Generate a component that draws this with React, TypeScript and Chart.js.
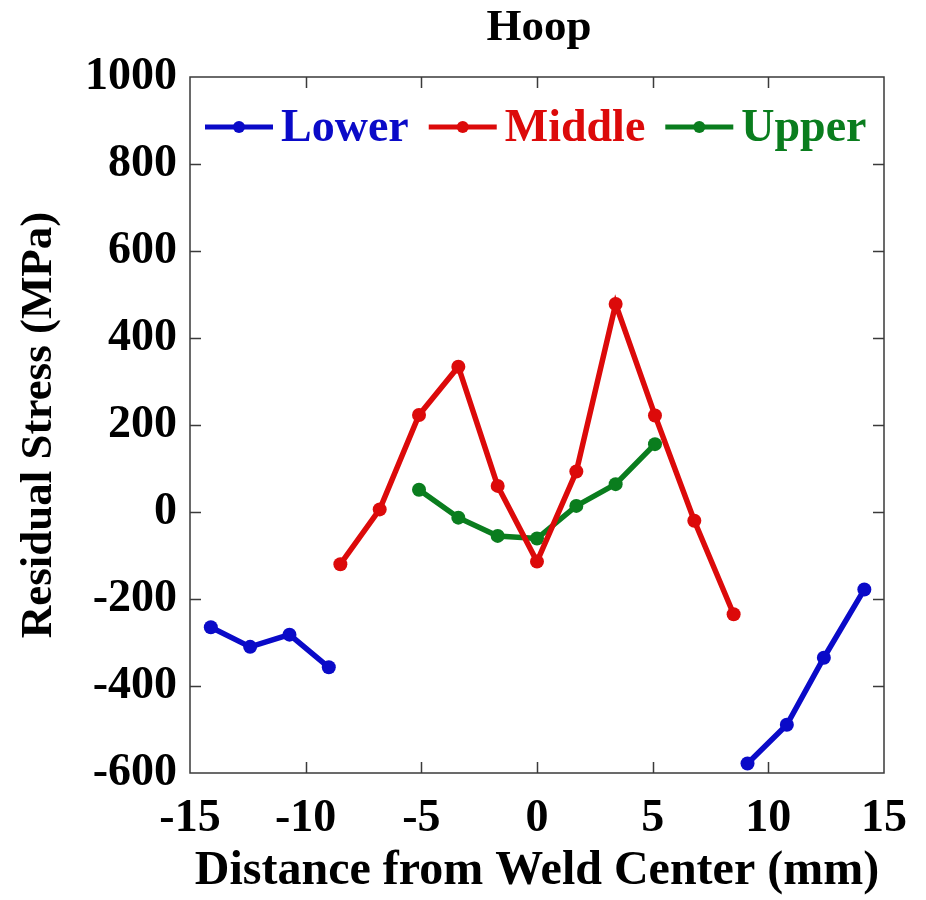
import React, { useEffect, useRef } from "react";
import { Chart, registerables } from "chart.js";

Chart.register(...registerables);

const chartTitle = "Hoop";
const xTitle = "Distance from Weld Center (mm)";
const yTitle = "Residual Stress (MPa)";

const xMin = -15;
const xMax = 15;
const xStep = 5;
const yMin = -600;
const yMax = 1000;
const yStep = 200;

// Lower (two separate segments)
const lowerLeftX = [-14.1, -12.4, -10.7, -9.0];
const lowerLeftY = [-265, -310, -282, -357];
const lowerRightX = [9.1, 10.8, 12.4, 14.15];
const lowerRightY = [-578, -489, -335, -178];

// Middle
const middleX = [-8.5, -6.8, -5.1, -3.4, -1.7, 0, 1.7, 3.4, 5.1, 6.8, 8.5];
const middleY = [-120, 6, 223, 334, 60, -114, 93, 478, 222, -20, -235];

// Upper
const upperX = [-5.1, -3.4, -1.7, 0, 1.7, 3.4, 5.1];
const upperY = [51, -13, -55, -61, 14, 64, 156];

const seriesNames = ["Lower", "Middle", "Upper"];
const seriesColors = ["#0a0ac8", "#dc0a0a", "#0a7d1e"];

const FONT = "'Liberation Serif', 'Times New Roman', serif";

function pts(xs: number[], ys: (number | null)[]) {
  return xs.map((x, i) => ({ x, y: ys[i] }));
}

const decorPlugin = {
  id: "decor",
  beforeDatasetsDraw(chart: any) {
    const { ctx, chartArea: a, scales } = chart;
    ctx.save();
    ctx.strokeStyle = "#3a3a3a";
    ctx.lineWidth = 1.5;
    ctx.strokeRect(a.left, a.top, a.right - a.left, a.bottom - a.top);
    const tl = 11;
    ctx.beginPath();
    for (let v = xMin + xStep; v < xMax; v += xStep) {
      const px = Math.round(scales.x.getPixelForValue(v)) + 0.5;
      ctx.moveTo(px, a.bottom);
      ctx.lineTo(px, a.bottom - tl);
      ctx.moveTo(px, a.top);
      ctx.lineTo(px, a.top + tl);
    }
    for (let v = yMin + yStep; v < yMax; v += yStep) {
      const py = Math.round(scales.y.getPixelForValue(v)) + 0.5;
      ctx.moveTo(a.left, py);
      ctx.lineTo(a.left + tl, py);
      ctx.moveTo(a.right, py);
      ctx.lineTo(a.right - tl, py);
    }
    ctx.stroke();
    ctx.restore();
  },
  afterDraw(chart: any) {
    const { ctx, chartArea: a } = chart;
    ctx.save();
    // title
    ctx.fillStyle = "#000";
    ctx.font = `bold 45px ${FONT}`;
    ctx.textAlign = "center";
    ctx.textBaseline = "alphabetic";
    ctx.fillText(chartTitle, (a.left + a.right) / 2 + 2, 40);
    // legend
    ctx.font = `bold 46px ${FONT}`;
    ctx.textAlign = "left";
    ctx.textBaseline = "middle";
    let x = a.left + 15;
    const y = a.top + 50;
    chart.data.datasets.forEach((ds: any) => {
      const lineLen = 68;
      ctx.strokeStyle = ds.borderColor;
      ctx.lineWidth = 5;
      ctx.beginPath();
      ctx.moveTo(x, y);
      ctx.lineTo(x + lineLen, y);
      ctx.stroke();
      ctx.fillStyle = ds.borderColor;
      ctx.beginPath();
      ctx.arc(x + lineLen / 2, y, 6, 0, Math.PI * 2);
      ctx.fill();
      x += lineLen + 8;
      ctx.fillStyle = ds.borderColor;
      ctx.fillText(ds.label, x, y + 2);
      x += ctx.measureText(ds.label).width + 20;
    });
    ctx.restore();
  },
};

export default function App() {
  const ref = useRef<HTMLCanvasElement | null>(null);
  useEffect(() => {
    document.body.style.margin = "0";
    const canvas = ref.current;
    if (!canvas) return;
    const lowerData = [
      ...pts(lowerLeftX, lowerLeftY),
      { x: 0, y: null },
      ...pts(lowerRightX, lowerRightY),
    ];
    const datasets = [
      { label: seriesNames[0], data: lowerData },
      { label: seriesNames[1], data: pts(middleX, middleY) },
      { label: seriesNames[2], data: pts(upperX, upperY) },
    ].map((d, i) => ({
      ...d,
      borderColor: seriesColors[i],
      backgroundColor: seriesColors[i],
      pointBackgroundColor: seriesColors[i],
      pointBorderColor: seriesColors[i],
      borderWidth: 5.5,
      pointRadius: 7,
      pointBorderWidth: 0,
      tension: 0,
      spanGaps: false,
      fill: false,
    }));
    const chart = new Chart(canvas, {
      type: "line",
      data: { datasets } as any,
      plugins: [decorPlugin],
      options: {
        animation: false,
        responsive: false,
        devicePixelRatio: 1,
        layout: { padding: { top: 77, right: 41, left: 0, bottom: 0 } },
        plugins: {
          legend: { display: false },
          title: { display: false },
          tooltip: { enabled: false },
        },
        scales: {
          x: {
            type: "linear",
            min: xMin,
            max: xMax,
            ticks: {
              stepSize: xStep,
              color: "#000",
              padding: 19,
              font: { family: FONT, size: 46, weight: "bold" },
              callback: (v: number) => String(v),
            },
            grid: { display: false, drawTicks: false },
            border: { display: false },
            title: {
              display: true,
              text: xTitle,
              color: "#000",
              padding: { top: 0, bottom: 0 },
              font: { family: FONT, size: 48, weight: "bold" },
            },
            afterFit: (s: any) => {
              s.height = 127;
            },
          },
          y: {
            type: "linear",
            min: yMin,
            max: yMax,
            ticks: {
              stepSize: yStep,
              color: "#000",
              padding: 13,
              font: { family: FONT, size: 46, weight: "bold" },
              callback: (v: number) => String(v),
            },
            grid: { display: false, drawTicks: false },
            border: { display: false },
            title: {
              display: true,
              text: yTitle,
              color: "#000",
              padding: { top: 12, bottom: 0 },
              font: { family: FONT, size: 45, weight: "bold" },
            },
            afterFit: (s: any) => {
              s.width = 190;
            },
          },
        },
      } as any,
    });
    return () => chart.destroy();
  }, []);
  return (
    <div style={{ width: 926, height: 900, background: "#fff" }}>
      <canvas ref={ref} width={926} height={900} style={{ display: "block", width: 926, height: 900 }} />
    </div>
  );
}
